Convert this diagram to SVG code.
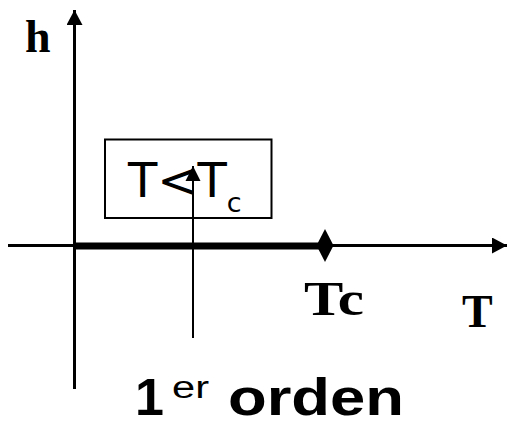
<svg xmlns="http://www.w3.org/2000/svg" width="508" height="422" viewBox="0 0 508 422">
  <style>
    .serif { font-family: "Liberation Serif", "Times New Roman", serif; font-weight: bold; fill: #000; }
    .sans { font-family: "DejaVu Sans", sans-serif; fill: #000; }
    .arial { font-family: "Liberation Sans", Arial, sans-serif; font-weight: bold; fill: #000; }
    .ax { stroke: #000; fill: none; }
  </style>
  <defs>
    <marker id="ah" markerUnits="userSpaceOnUse" markerWidth="16" markerHeight="16" viewBox="0 0 16 16" refX="15" refY="8" orient="auto">
      <path d="M0,0 L15,8 L0,16 Z" fill="#000"/>
    </marker>
    <marker id="ahs" markerUnits="userSpaceOnUse" markerWidth="16" markerHeight="16" viewBox="0 0 16 16" refX="15" refY="8" orient="auto">
      <path d="M0,0.5 L15,8 L0,15.5 Z" fill="#000"/>
    </marker>
  </defs>
  <g id="connectors">
    <line class="ax" x1="74.5" y1="389" x2="74.5" y2="10" stroke-width="3" marker-end="url(#ah)"/>
    <line class="ax" x1="8" y1="245.5" x2="507" y2="245.5" stroke-width="3" marker-end="url(#ah)"/>
    <line class="ax" x1="74" y1="246" x2="322" y2="246" stroke-width="7"/>
    <line class="ax" x1="193" y1="338" x2="193" y2="166" stroke-width="2" marker-end="url(#ahs)"/>
  </g>
  <g id="tc-point">
    <polygon points="325,229 333.5,245.5 325,262 316.5,245.5" fill="#000"/>
  </g>
  <g id="label-h">
    <text class="serif" x="25" y="52" font-size="46">h</text>
  </g>
  <g id="label-Tc">
    <text class="serif" x="304" y="315" font-size="48" textLength="60" lengthAdjust="spacingAndGlyphs">Tc</text>
  </g>
  <g id="label-T">
    <text class="serif" x="462" y="327" font-size="46">T</text>
  </g>
  <g id="condition">
    <rect x="105" y="139.5" width="166.5" height="78.5" fill="none" stroke="#000" stroke-width="2"/>
    <text class="sans" x="128" y="197" font-size="48">T&lt;T<tspan font-size="27" y="212">c</tspan></text>
  </g>
  <g id="title">
    <text class="arial" y="415"><tspan x="135" font-size="52">1</tspan><tspan x="172" y="398" font-size="31" font-weight="normal" textLength="37" lengthAdjust="spacingAndGlyphs">er</tspan><tspan x="228" y="415" font-size="52" textLength="176" lengthAdjust="spacingAndGlyphs">orden</tspan></text>
  </g>
</svg>
